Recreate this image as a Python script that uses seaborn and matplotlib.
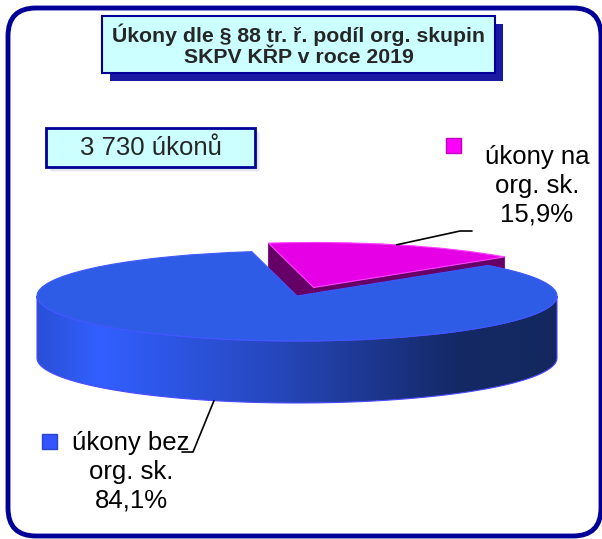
import matplotlib
matplotlib.use("Agg")
import matplotlib.pyplot as plt
from matplotlib.patches import FancyBboxPatch, Rectangle, Polygon
from matplotlib.colors import LinearSegmentedColormap
from matplotlib.transforms import Affine2D
import numpy as np
import seaborn as sns

# data
categories = ["úkony na\norg. sk.", "úkony bez\norg. sk."]
shares = [15.9, 84.1]
total_label = "3 730 úkonů"
title = "Úkony dle § 88 tr. ř. podíl org. skupin\nSKPV KŘP v roce 2019"
top_colors = ["#e600e6", "#2f5ce6"]
edge_colors = ["#ff40ff", "#4058ff"]
legend_colors = ["#ff00ff", "#3355ff"]

sns.set_theme(style="white")
plt.rcParams['font.family'] = ['Liberation Sans', 'DejaVu Sans']

fig = plt.figure(figsize=(6.02, 5.39), dpi=100)
ax = fig.add_axes([0, 0, 1, 1])

# pie geometry in pixels (flattened ellipse + depth)
cx, cy, a, b, depth = 297, 296, 260, 45, 62
squish = Affine2D().scale(a, -b).translate(cx, cy)


def to_px(x, y):
    return cx + a * x, cy - b * y


wedges, _ = ax.pie(shares, colors=top_colors, startangle=100, counterclock=False,
                   explode=[0.2, 0], wedgeprops=dict(linewidth=0.8))
for w, ec in zip(wedges, edge_colors):
    w.set_transform(squish + ax.transData)
    w.set_edgecolor(ec)

mag, blue = wedges
mag.set_zorder(2)
blue.set_zorder(4)

# magenta radial side walls
mcx, mcy = mag.center
for t in (mag.theta1, mag.theta2):
    p0 = to_px(mcx, mcy)
    p1 = to_px(mcx + np.cos(np.radians(t)), mcy + np.sin(np.radians(t)))
    wall = Polygon([p0, p1, (p1[0], p1[1] + depth), (p0[0], p0[1] + depth)],
                   closed=True, fc="#660066", ec="#7a007a", lw=0.6, zorder=1)
    ax.add_patch(wall)

# blue front wall with shading gradient
t = np.radians(np.linspace(180, 360, 200))
tx, ty = to_px(np.cos(t), np.sin(t))
verts = np.column_stack([np.r_[tx, tx[::-1]], np.r_[ty, ty[::-1] + depth]])
wall = Polygon(verts, closed=True, fc="none", ec="#4a4aff", lw=0.8, zorder=3.5)
ax.add_patch(wall)
cmap = LinearSegmentedColormap.from_list("side", [
    (0.0, "#2a50d7"), (0.12, "#325fff"), (0.45, "#2648be"),
    (0.82, "#142864"), (1.0, "#14285f")])
grad = np.linspace(0, 1, 256).reshape(1, -1)
img = ax.imshow(grad, cmap=cmap, aspect="auto", zorder=3,
                extent=(cx - a, cx + a, cy + b + depth + 2, cy - 2))
img.set_clip_path(wall)

ax.set_aspect("auto")
ax.set_xlim(0, 602)
ax.set_ylim(539, 0)
ax.axis("off")

# leader lines
tm = np.radians((mag.theta1 + mag.theta2) / 2)
sx, sy = to_px(mcx + np.cos(tm), mcy + np.sin(tm))
ax.plot([sx, 460, 472], [sy, 231, 231], color="black", lw=1.2, zorder=5)
tb = np.radians((blue.theta1 + blue.theta2) / 2)
bx, by = to_px(np.cos(tb), np.sin(tb))
ax.plot([bx, 193, 182], [by + depth, 452, 452], color="black", lw=1.2, zorder=5)


# labels
def lab_fmt(i):
    return categories[i] + "\n" + f"{shares[i]:.1f}".replace(".", ",") + "%"


ax.text(537, 186, lab_fmt(0), ha="center", va="center", fontsize=18.5,
        linespacing=1.25, color="black", zorder=6)
ax.text(131, 472, lab_fmt(1), ha="center", va="center", fontsize=18.5,
        linespacing=1.25, color="black", zorder=6)
ax.add_patch(Rectangle((446, 138), 15, 15, fc=legend_colors[0], ec="#c000c0", lw=1, zorder=6))
ax.add_patch(Rectangle((42, 434), 15, 15, fc=legend_colors[1], ec="#2a44cc", lw=1, zorder=6))

# title box with shadow
ax.add_patch(Rectangle((110, 24), 393, 57, fc="#000099", ec="none", alpha=0.9, zorder=6))
ax.add_patch(Rectangle((102, 16), 393, 57, fc="#ccffff", ec="#000099", lw=1.5, zorder=7))
ax.text(298.5, 45, title, ha="center", va="center", fontsize=15.3, fontweight="bold",
        linespacing=1.15, zorder=8)

# count box with soft shadow
for k in range(1, 6):
    ax.add_patch(Rectangle((46 + k, 128 + k), 209, 39, fc="#7070a0", ec="none",
                           alpha=0.07, zorder=6))
ax.add_patch(Rectangle((46, 128), 209, 39, fc="#ccffff", ec="#000099", lw=2, zorder=7))
ax.text(150.5, 148, total_label, ha="center", va="center", fontsize=18.5, zorder=8)

# outer rounded frame
ax.add_patch(FancyBboxPatch((8, 8), 593, 528, boxstyle="round,pad=0,rounding_size=28",
                            fc="none", ec="#000099", lw=3.5, zorder=9))

fig.savefig("out.png", dpi=100)
